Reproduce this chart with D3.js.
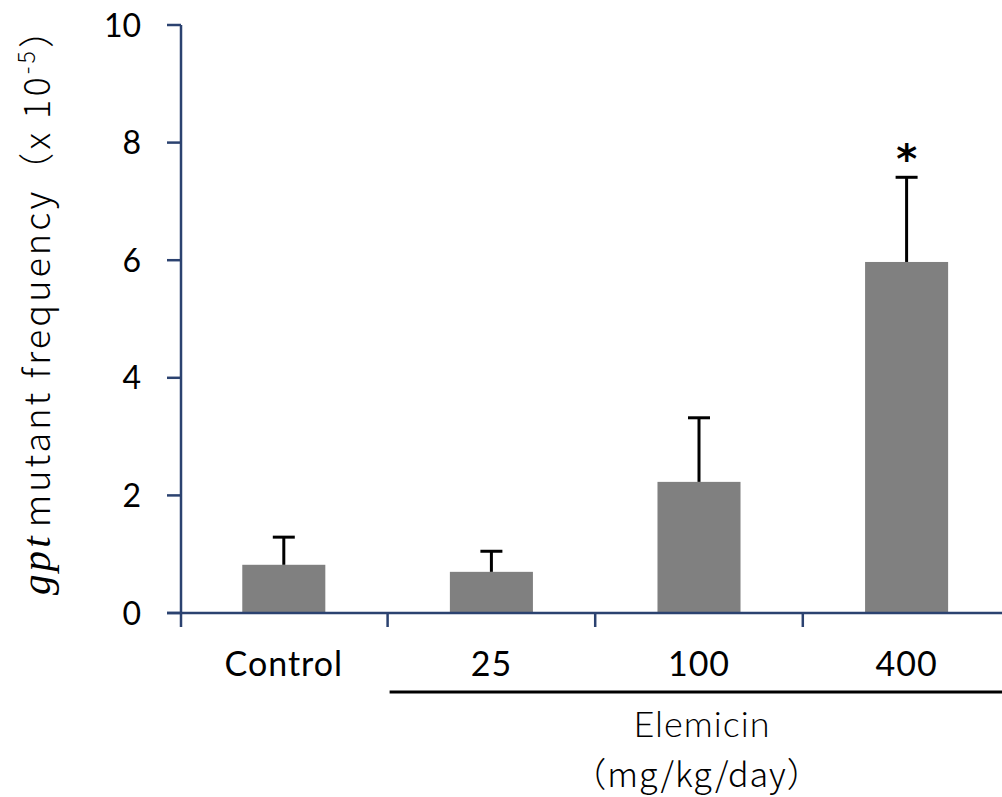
<!DOCTYPE html>
<html><head><meta charset="utf-8">
<script src="https://cdn.jsdelivr.net/npm/d3@7"></script>
<style>body{margin:0;background:#fff}svg{display:block}</style>
</head><body>
<svg id="c" width="1002" height="797"></svg>
<script>
const categories = ["Control", "25", "100", "400"];
const means = [0.82, 0.70, 2.23, 5.97];
const errTops = [1.29, 1.05, 3.32, 7.41];
const significant = [false, false, false, true];
const yTicks = [0, 2, 4, 6, 8, 10];

const svg = d3.select("#c");
const axisColor = "#2b4270";
const font = "Lato, 'Open Sans', sans-serif";
const cjk = "'Noto Sans CJK JP', sans-serif";
const x = d3.scaleBand().domain(categories).range([180, 1010.4]).paddingInner(0.6).paddingOuter(0.3);
const y = d3.scaleLinear().domain([0, 10]).range([613, 25]);

// bars
svg.selectAll("rect.bar").data(categories).enter().append("rect")
  .attr("x", d => x(d)).attr("width", x.bandwidth())
  .attr("y", (d, i) => y(means[i])).attr("height", (d, i) => y(0) - y(means[i]))
  .attr("fill", "#808080");

// error bars
const cx = d => x(d) + x.bandwidth() / 2;
svg.selectAll("line.err").data(categories).enter().append("line")
  .attr("x1", cx).attr("x2", cx)
  .attr("y1", (d, i) => y(means[i])).attr("y2", (d, i) => y(errTops[i]))
  .attr("stroke", "#000").attr("stroke-width", 3);
svg.selectAll("line.cap").data(categories).enter().append("line")
  .attr("x1", d => cx(d) - 11).attr("x2", d => cx(d) + 11)
  .attr("y1", (d, i) => y(errTops[i])).attr("y2", (d, i) => y(errTops[i]))
  .attr("stroke", "#000").attr("stroke-width", 3);
svg.selectAll("text.sig").data(categories.filter((d, i) => significant[i])).enter().append("text")
  .attr("x", cx).attr("y", d => y(errTops[categories.indexOf(d)]) - 4)
  .attr("text-anchor", "middle").attr("font-family", "'DejaVu Sans', sans-serif")
  .attr("font-weight", "bold").attr("font-size", 40).text("*");

// y axis
svg.append("line").attr("x1", 181).attr("x2", 181).attr("y1", y(10)).attr("y2", y(0) + 14)
  .attr("stroke", axisColor).attr("stroke-width", 2.5);
svg.selectAll("line.yt").data(yTicks).enter().append("line")
  .attr("x1", 167).attr("x2", 181).attr("y1", d => y(d)).attr("y2", d => y(d))
  .attr("stroke", axisColor).attr("stroke-width", 2.5);
svg.selectAll("text.yl").data(yTicks).enter().append("text")
  .attr("x", 141).attr("y", d => y(d)).attr("dy", "0.36em")
  .attr("text-anchor", "end").attr("font-family", font).attr("font-size", 32).attr("fill", "#000")
  .text(d => d);

// x axis
svg.append("line").attr("x1", 167).attr("x2", 1002).attr("y1", y(0)).attr("y2", y(0))
  .attr("stroke", axisColor).attr("stroke-width", 2.5);
const bounds = categories.map(d => x(d) - x.step() * x.paddingOuter());
svg.selectAll("line.xt").data(bounds.slice(1)).enter().append("line")
  .attr("x1", d => d).attr("x2", d => d).attr("y1", y(0)).attr("y2", y(0) + 14)
  .attr("stroke", axisColor).attr("stroke-width", 2.5);
svg.selectAll("text.xl").data(categories).enter().append("text")
  .attr("x", cx).attr("y", 676).attr("text-anchor", "middle")
  .attr("font-family", font).attr("font-size", 34).attr("letter-spacing", 1).attr("fill", "#000").text(d => d);

// group bracket
svg.append("line").attr("x1", bounds[1] + 2).attr("x2", 1002).attr("y1", 692).attr("y2", 692)
  .attr("stroke", "#000").attr("stroke-width", 3);
svg.append("text").attr("x", 702).attr("y", 737).attr("text-anchor", "middle")
  .attr("font-family", font).attr("font-weight", 300).attr("font-size", 36).attr("letter-spacing", 1).text("Elemicin");
svg.append("text").attr("x", 697).attr("y", 787).attr("text-anchor", "middle")
  .attr("font-family", cjk).attr("font-weight", 300).attr("font-size", 34)
  .attr("letter-spacing", 1).text("（mg/kg/day）");

// y title
const yt = svg.append("text").attr("transform", "translate(50,302) rotate(-90)")
  .attr("text-anchor", "middle").attr("font-family", cjk).attr("font-weight", 300).attr("font-size", 36).attr("fill", "#000");
yt.append("tspan").attr("font-family", "'Liberation Serif', serif").attr("font-style", "italic").attr("font-size", 41).text("gpt");
yt.append("tspan").attr("dx", 6).text("mutant frequency（x 10");
yt.append("tspan").attr("font-size", 23).attr("dy", -15).text("-5");
yt.append("tspan").attr("dy", 15).text("）");
const target = 580;
const len = yt.node().getComputedTextLength();
const nch = yt.text().length;
yt.attr("letter-spacing", Math.max(0, (target - len) / nch));
</script>
</body></html>
